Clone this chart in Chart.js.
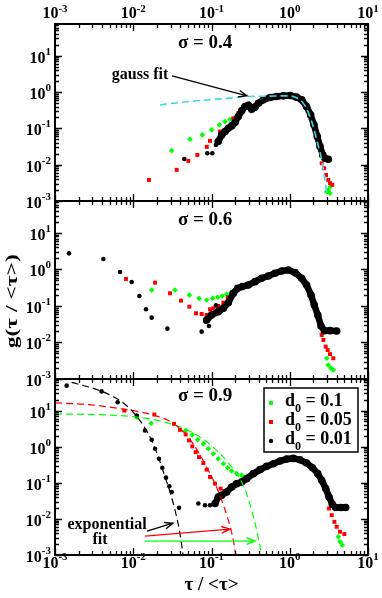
<!DOCTYPE html>
<html>
<head>
<meta charset="utf-8">
<script src="https://cdn.jsdelivr.net/npm/chart.js@4.4.0/dist/chart.umd.min.js"></script>
<style>
  html, body { margin: 0; padding: 0; background: #fff; }
  #wrap { position: relative; width: 382px; height: 598px; overflow: hidden; background: #fff; }
  #wrap canvas { position: absolute; left: 0; }
</style>
</head>
<body>
<div id="wrap">
  <canvas id="c1" width="382" height="215" style="top:0px"></canvas>
  <canvas id="c2" width="382" height="206" style="top:187px"></canvas>
  <canvas id="c3" width="382" height="233" style="top:365px"></canvas>
</div>
<script>
// axis ticks (log decades) and labels
const xTicks = [0.001, 0.01, 0.1, 1, 10];
const yTicks = [0.001, 0.01, 0.1, 1, 10];
const panelTitles = ['σ = 0.4', 'σ = 0.6', 'σ = 0.9'];
const legendValues = ['0.1', '0.05', '0.01'];

// sigma = 0.4
const s04Green = [[0.031,0.0244],[0.0531,0.0502],[0.0764,0.0662],[0.1005,0.091],[0.126,0.125],[0.149,0.154],[0.172,0.179],
  [2.97,0.0018],[3.11,0.002],[3.27,0.00163],[3.33,0.0025]];
const s04Red = [[0.0159,0.0038],[0.0359,0.0072],[0.0506,0.0127],[0.0659,0.0186],[0.087,0.031],[0.0957,0.0452],[0.128,0.0818],
  [0.19,0.19],[0.22,0.262],[0.343,0.418],
  [2.56,0.0109],[2.74,0.008],[2.91,0.0052],[3.11,0.0038],[3.27,0.0031],[3.5,0.0028]];
const s04Black = [[0.045,0.0144],[0.0885,0.0207],[0.1026,0.0207],[0.114,0.0351]];
const s04Band = [[0.122,0.0434],[0.135,0.0662],[0.149,0.0818],[0.164,0.101],[0.181,0.117],[0.2,0.145],[0.22,0.212],
  [0.243,0.304],[0.268,0.4],[0.296,0.435],[0.326,0.338],[0.36,0.384],[0.397,0.494],[0.459,0.611],[0.56,0.71],
  [0.681,0.755],[0.828,0.788],[1.01,0.805],[1.22,0.725],[1.42,0.611],[1.64,0.4],[1.85,0.235],[2.04,0.125],
  [2.25,0.0596],[2.44,0.0315],[2.64,0.0186],[2.82,0.015],[3.11,0.0141]];
const gaussFit = [[0.022,0.445],[0.0396,0.516],[0.0713,0.586],[0.156,0.665],[0.281,0.755],[0.507,0.771],[0.914,0.788],
  [1.11,0.755],[1.35,0.61],[1.57,0.418],[1.81,0.212],[2.0,0.112],[2.21,0.048],[2.56,0.0135],[2.82,0.0038],[2.97,0.00163]];

// sigma = 0.6
const s06Green = [[0.0172,0.274],[0.0341,0.274],[0.0521,0.2],[0.0692,0.162],[0.0867,0.146],[0.1035,0.162],[0.12,0.173],
  [0.1376,0.188],[0.156,0.209],[0.177,0.232],
  [2.97,0.0037],[3.11,0.0024],[3.37,0.00196],[3.6,0.00177]];
const s06Red = [[0.00807,0.55],[0.019,0.435],[0.0295,0.223],[0.0408,0.14],[0.0521,0.0957],[0.0634,0.063],[0.0748,0.0604],
  [0.0867,0.0567],[0.0957,0.081],[0.1055,0.0863],[0.122,0.1],[0.1417,0.123],[0.161,0.172],
  [2.56,0.016],[2.69,0.0117],[2.88,0.0077],[3.05,0.0062],[3.27,0.0048],[3.6,0.0037]];
const s06Black = [[0.00151,2.76],[0.00415,1.94],[0.00678,0.85],[0.00955,0.455],[0.01197,0.188],[0.01456,0.081],
  [0.01718,0.0479],[0.0273,0.0239],[0.0748,0.0198],[0.0841,0.0372],[0.0929,0.0283],[0.114,0.104]];
const s06Band = [[0.0867,0.0413],[0.1,0.0566],[0.122,0.07],[0.1417,0.0863],[0.164,0.123],[0.19,0.222],[0.216,0.305],
  [0.248,0.339],[0.296,0.376],[0.36,0.464],[0.437,0.573],[0.532,0.664],[0.647,0.785],[0.788,0.91],[0.959,0.968],
  [1.17,0.818],[1.42,0.573],[1.64,0.376],[1.87,0.2],[2.06,0.106],[2.28,0.0566],[2.51,0.0283],[2.77,0.0211],
  [3.27,0.0211],[3.98,0.0207]];

// sigma = 0.9
const s09Green = [[0.0111,6.55],[0.0169,4.48],[0.0468,2.8],[0.0569,2.13],[0.0665,1.55],[0.0787,1.2],[0.0912,0.877],
  [0.1055,0.638],[0.122,0.465],[0.1417,0.338],[0.161,0.262],[0.181,0.212],[0.21,0.179],[0.243,0.161],[0.281,0.151],
  [4.18,0.0032],[4.39,0.00233],[4.7,0.00189]];
const s09Red = [[0.00769,10],[0.0186,7.76],[0.0332,4.29],[0.0396,2.93],[0.0468,2.18],[0.0516,1.49],[0.0569,1.02],
  [0.0628,0.71],[0.0692,0.516],[0.0787,0.352],[0.0867,0.231],[0.0957,0.145],[0.111,0.0948],[0.131,0.069],[0.1445,0.0583],
  [3.18,0.0194],[3.44,0.0127],[3.72,0.0083],[3.98,0.00605],[4.39,0.0044],[4.99,0.0038]];
const s09Black = [[0.00141,49],[0.00394,34],[0.00632,17],[0.0111,7.3],[0.0141,2.8],[0.0172,1.55],[0.019,0.88],
  [0.0213,0.465],[0.0235,0.262],[0.0262,0.139],[0.0289,0.08],[0.031,0.0558],[0.0384,0.0202],
  [0.0679,0.0266],[0.0826,0.0239],[0.0957,0.0239]];
const s09Band = [[0.111,0.0266],[0.122,0.0406],[0.135,0.0452],[0.156,0.0558],[0.181,0.0767],[0.21,0.0948],[0.243,0.105],
  [0.281,0.13],[0.343,0.179],[0.417,0.231],[0.507,0.285],[0.617,0.338],[0.75,0.4],[0.914,0.454],[1.11,0.474],
  [1.35,0.435],[1.64,0.352],[1.95,0.262],[2.28,0.179],[2.56,0.117],[2.88,0.069],[3.18,0.0406],[3.5,0.0255],
  [3.86,0.0207],[4.52,0.0207],[5.19,0.0207]];
const expFitGreen = [[0.001,8.09],[0.00435,7.59],[0.0116,6.55],[0.0255,4.77],[0.0506,2.8],[0.0826,1.49],[0.135,0.574],
  [0.181,0.274],[0.231,0.13],[0.281,0.0502],[0.326,0.0174],[0.378,0.0049],[0.417,0.0017],[0.437,0.001]];
const expFitRed = [[0.001,16.3],[0.00267,14.7],[0.00711,11.1],[0.0128,9],[0.019,7.28],[0.0281,5.3],[0.0377,3.47],
  [0.0506,1.84],[0.0679,0.71],[0.0867,0.274],[0.111,0.0948],[0.135,0.0329],[0.164,0.00924],[0.19,0.00259],[0.204,0.001]];
const expFitBlack = [[0.00163,60.5],[0.00376,35.6],[0.00678,18.9],[0.01,9],[0.01345,3.86],[0.0172,1.49],[0.0209,0.516],
  [0.0255,0.145],[0.0295,0.0558],[0.0342,0.0174],[0.0385,0.00545],[0.0416,0.00189],[0.0432,0.001]];

const GREEN = '#00ff00', RED = '#ff0000', CYAN = '#3fd9ea';
const SERIF = '"Liberation Serif", "Times New Roman", serif';

const xy = arr => arr.map(p => ({ x: p[0], y: p[1] }));
function pts(arr, color, style, r) {
  return { data: xy(arr), showLine: false, pointStyle: style, pointRadius: r, borderWidth: 0,
    backgroundColor: color, borderColor: color };
}
function band(arr) {
  return { data: xy(arr), showLine: true, borderWidth: 6.5, borderColor: '#000', pointRadius: 3.8,
    pointStyle: 'circle', backgroundColor: '#000', pointBorderWidth: 0, tension: 0 };
}
function fit(arr, color, width) {
  return { data: xy(arr), showLine: true, pointRadius: 0, borderColor: color, borderWidth: width,
    borderDash: [7, 4], cubicInterpolationMode: 'monotone' };
}

function font(size) { return 'bold ' + size + 'px ' + SERIF; }

function powLabel(ctx, v, x, yBase, yExp, align) {
  const e = String(Math.round(Math.log10(v)));
  ctx.font = font(16);
  const w1 = ctx.measureText('10').width;
  ctx.font = font(11);
  const w2 = ctx.measureText(e).width;
  const x0 = align === 'right' ? x - w1 - w2 : x - (w1 + w2) / 2;
  ctx.textAlign = 'left';
  ctx.textBaseline = 'alphabetic';
  ctx.font = font(16);
  ctx.fillText('10', x0, yBase);
  ctx.font = font(11);
  ctx.fillText(e, x0 + w1, yExp);
}

function arrow(ctx, x1, y1, x2, y2, color) {
  const ang = Math.atan2(y2 - y1, x2 - x1), L = 9;
  ctx.strokeStyle = color;
  ctx.lineWidth = 1.4;
  ctx.beginPath();
  ctx.moveTo(x1, y1); ctx.lineTo(x2, y2);
  ctx.moveTo(x2 - L * Math.cos(ang - 0.38), y2 - L * Math.sin(ang - 0.38));
  ctx.lineTo(x2, y2);
  ctx.lineTo(x2 - L * Math.cos(ang + 0.38), y2 - L * Math.sin(ang + 0.38));
  ctx.stroke();
}

// frame, inward ticks, power-of-ten labels, panel text and annotations
const frame = {
  id: 'frame',
  afterDatasetsDraw(chart, args, o) {
    const { ctx, chartArea: a, scales: { x, y } } = chart;
    ctx.save();
    ctx.strokeStyle = '#000';
    ctx.fillStyle = '#000';
    // ticks
    ctx.lineWidth = 1.3;
    ctx.beginPath();
    xTicks.forEach(d => {
      for (let k = 1; k <= 9; k++) {
        const v = d * k;
        if (v > x.max * 1.0001) break;
        const px = Math.round(x.getPixelForValue(v)) + 0.5;
        const len = k === 1 ? 7 : 4;
        ctx.moveTo(px, a.bottom); ctx.lineTo(px, a.bottom - len);
        ctx.moveTo(px, a.top); ctx.lineTo(px, a.top + len);
      }
    });
    yTicks.forEach(d => {
      for (let k = 1; k <= 9; k++) {
        const v = d * k;
        if (v > y.max) break;
        const py = Math.round(y.getPixelForValue(v)) + 0.5;
        const len = k === 1 ? 7 : 4;
        ctx.moveTo(a.left, py); ctx.lineTo(a.left + len, py);
        ctx.moveTo(a.right, py); ctx.lineTo(a.right - len, py);
      }
    });
    ctx.stroke();
    // border
    ctx.lineWidth = 2;
    ctx.strokeRect(a.left, a.top, a.right - a.left, a.bottom - a.top);

    // y labels
    yTicks.forEach(v => {
      const py = y.getPixelForValue(v);
      powLabel(ctx, v, a.left - 4, py + 7, py - 1, 'right');
    });
    // x labels
    if (o.xLabels === 'top') {
      xTicks.forEach(v => powLabel(ctx, v, x.getPixelForValue(v), a.top - 6, a.top - 12, 'center'));
    } else if (o.xLabels === 'bottom') {
      xTicks.forEach(v => powLabel(ctx, v, x.getPixelForValue(v), a.bottom + 13, a.bottom + 5, 'center'));
    }

    // panel title
    ctx.font = font(19);
    ctx.textAlign = 'center';
    ctx.textBaseline = 'middle';
    ctx.fillText(o.title, x.getPixelForValue(o.titleAt[0]), y.getPixelForValue(o.titleAt[1]));

    // annotations
    (o.notes || []).forEach(n => {
      ctx.font = font(16);
      ctx.fillStyle = '#000';
      ctx.textAlign = 'center';
      ctx.textBaseline = 'middle';
      ctx.fillText(n.text, x.getPixelForValue(n.at[0]), y.getPixelForValue(n.at[1]));
    });
    (o.arrows || []).forEach(r => {
      arrow(ctx, x.getPixelForValue(r.from[0]), y.getPixelForValue(r.from[1]),
        x.getPixelForValue(r.to[0]), y.getPixelForValue(r.to[1]), r.color);
    });

    // legend box
    if (o.legend) {
      const L = a.right - 104, T = a.top + 9;
      ctx.lineWidth = 1.5;
      ctx.strokeStyle = '#000';
      ctx.strokeRect(L, T, 94, 64);
      const colors = [GREEN, RED, '#000'];
      legendValues.forEach((val, i) => {
        const ty = T + 13 + i * 19;
        ctx.fillStyle = colors[i];
        if (i < 2) ctx.fillRect(L + 5, ty, 4, 4);
        else { ctx.beginPath(); ctx.arc(L + 7, ty + 2, 2.2, 0, Math.PI * 2); ctx.fill(); }
        ctx.fillStyle = '#000';
        ctx.textAlign = 'left';
        ctx.textBaseline = 'alphabetic';
        ctx.font = font(18);
        const dx = L + 21;
        ctx.fillText('d', dx, ty + 5);
        const wd = ctx.measureText('d').width;
        ctx.font = font(12);
        ctx.fillText('0', dx + wd, ty + 11);
        const w0 = ctx.measureText('0').width;
        ctx.font = font(18);
        ctx.fillText(' = ' + val, dx + wd + w0, ty + 5);
      });
    }

    // axis titles
    if (o.yTitle) {
      ctx.save();
      ctx.translate(13, y.getPixelForValue(0.135));
      ctx.rotate(-Math.PI / 2);
      ctx.scale(1.38, 1);
      ctx.font = font(17);
      ctx.textAlign = 'center';
      ctx.textBaseline = 'middle';
      ctx.fillText('g(τ / <τ>)', 0, 0);
      ctx.restore();
    }
    if (o.xTitle) {
      ctx.font = font(19);
      ctx.textAlign = 'center';
      ctx.textBaseline = 'middle';
      ctx.fillText('τ / <τ>', x.getPixelForValue(0.1), a.bottom + 30);
    }
    ctx.restore();
  }
};

function makePanel(id, datasets, pad, frameOpts) {
  return new Chart(document.getElementById(id), {
    type: 'scatter',
    data: { datasets },
    options: {
      responsive: false,
      animation: false,
      events: [],
      layout: { padding: { left: 55, right: 14, top: pad[0], bottom: pad[1] } },
      plugins: { legend: { display: false }, tooltip: { enabled: false }, frame: frameOpts },
      scales: {
        x: { type: 'logarithmic', min: 0.001, max: 10, display: false },
        y: { type: 'logarithmic', min: 0.001, max: 75, display: false }
      }
    },
    plugins: [frame]
  });
}

makePanel('c1', [
  fit(gaussFit, CYAN, 1.6),
  band(s04Band),
  pts(s04Black, '#000', 'circle', 2.3),
  pts(s04Red, RED, 'rect', 2.8),
  pts(s04Green, GREEN, 'rectRot', 2.8)
], [24, 14], {
  xLabels: 'top', title: panelTitles[0], titleAt: [0.083, 22],
  notes: [{ text: 'gauss fit', at: [0.0122, 3.0] }],
  arrows: [{ from: [0.0313, 2.8], to: [0.284, 0.789], color: '#000' }]
});

makePanel('c2', [
  band(s06Band),
  pts(s06Black, '#000', 'circle', 2.3),
  pts(s06Red, RED, 'rect', 2.8),
  pts(s06Green, GREEN, 'rectRot', 2.8)
], [14, 14], { title: panelTitles[1], titleAt: [0.083, 22], yTitle: true });

makePanel('c3', [
  fit(expFitBlack, '#000', 1.2),
  fit(expFitRed, RED, 1.2),
  fit(expFitGreen, GREEN, 1.2),
  band(s09Band),
  pts(s09Black, '#000', 'circle', 2.3),
  pts(s09Red, RED, 'rect', 2.8),
  pts(s09Green, GREEN, 'rectRot', 2.8)
], [14, 43], {
  xLabels: 'bottom', title: panelTitles[2], titleAt: [0.083, 25], legend: true, xTitle: true,
  notes: [{ text: 'exponential', at: [0.00463, 0.0069] }, { text: 'fit', at: [0.00376, 0.0026] }],
  arrows: [
    { from: [0.015, 0.0046], to: [0.0322, 0.0076], color: '#000' },
    { from: [0.0141, 0.00334], to: [0.172, 0.0052], color: RED },
    { from: [0.0141, 0.00243], to: [0.36, 0.00243], color: GREEN }
  ]
});
</script>
</body>
</html>
